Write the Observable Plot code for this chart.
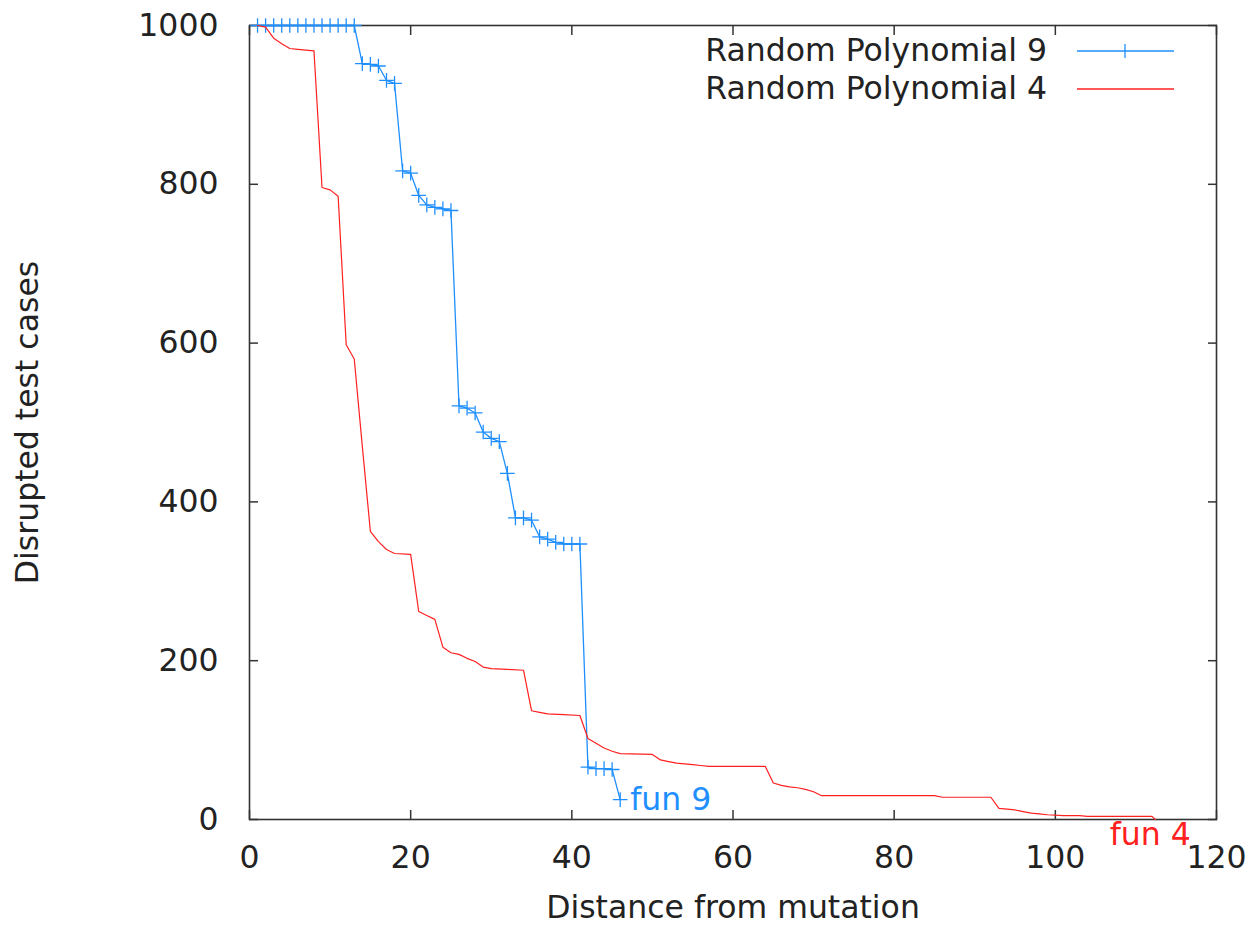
<!DOCTYPE html>
<html><head><meta charset="utf-8">
<script src="https://cdn.jsdelivr.net/npm/d3@7"></script>
<script src="https://cdn.jsdelivr.net/npm/@observablehq/plot@0.6"></script>
<style>
body{margin:0;background:#fff}
#chart{width:1248px;height:925px}
</style>
</head><body><div id="chart"></div>
<script>
const xTicks = [0, 20, 40, 60, 80, 100, 120];
const yTicks = [0, 200, 400, 600, 800, 1000];
const xLabel = "Distance from mutation";
const yLabel = "Disrupted test cases";
const seriesNames = ["Random Polynomial 9", "Random Polynomial 4"];
const seriesColors = ["#1f8fff", "#ff2020"];
const endLabels = ["fun 9", "fun 4"];

// Random Polynomial 9 (marked points)
const poly9X = [1,2,3,4,5,6,7,8,9,10,11,12,13,14,15,16,17,18,19,20,21,22,23,24,25,26,27,28,29,30,31,32,33,34,35,36,37,38,39,40,41,42,43,44,45,46];
const poly9Y = [1000,1000,1000,1000,1000,1000,1000,1000,1000,1000,1000,1000,1000,952,951,949,931,927,817,814,786,774,771,769,767,521,518,512,488,480,476,436,380,380,377,356,353,349,347,347,347,66,64,64,63,25];

// Random Polynomial 4 (line only)
const poly4X = [1,2,3,4,5,6,7,8,9,10,11,12,13,14,15,16,17,18,20,21,22,23,24,25,26,27,28,29,30,32,34,35,36,37,39,41,42,43,44,45,46,50,51,52,53,54,55,56,57,64,65,66,67,68,69,70,71,85,86,92,93,94,95,96,97,98,99,101,103,104,112,112.4];
const poly4Y = [1000,998,984,977,971,970,969,968,796,793,785,598,580,470,363,350,340,335,334,262,257,252,217,210,208,203,199,192,190,189,188,137,135,133,132,131,102,96,90,86,83,82,75,73,71,70,69,68,67,67,46,43,41,40,38,35,30,30,28,28,14,13,12,10,8,7,6,5,5,4,4,0];

const poly9 = poly9X.map((x, i) => ({x, y: poly9Y[i]}));
const poly4 = poly4X.map((x, i) => ({x, y: poly4Y[i]}));

const FS = 31.5;
const FONT = "DejaVu Sans";
const axisColor = "#333";
const textColor = "#222";

function legendMark(index, scales, values, dims) {
  const g = d3.create("svg:g").attr("font-family", FONT).attr("font-size", FS);
  const right = dims.width - dims.marginRight;
  const top = dims.marginTop;
  seriesNames.forEach((name, i) => {
    const y = top + 26 + i * 38;
    g.append("text").attr("x", right - 169).attr("y", y).attr("dy", "0.32em")
      .attr("text-anchor", "end").attr("fill", textColor).text(name);
    g.append("line").attr("x1", right - 139).attr("x2", right - 42).attr("y1", y).attr("y2", y)
      .attr("stroke", seriesColors[i]).attr("stroke-width", 1.3);
    if (i === 0) {
      g.append("path").attr("d", `M${right - 91},${y - 7}V${y + 7}`)
        .attr("stroke", seriesColors[i]).attr("stroke-width", 1.3);
    }
  });
  return g.node();
}

const chart = Plot.plot({
  width: 1248,
  height: 925,
  marginLeft: 249,
  marginRight: 32,
  marginTop: 25,
  marginBottom: 106,
  style: {fontFamily: FONT, fontSize: FS + "px", background: "#fff", color: textColor},
  x: {domain: [0, 120]},
  y: {domain: [0, 1000]},
  marks: [
    Plot.axisX(xTicks, {anchor: "bottom", tickSize: -9, tickPadding: 35, tickFormat: d => String(d), fontSize: FS, label: null, stroke: axisColor, fill: textColor, strokeWidth: 1.5}),
    Plot.axisX(xTicks, {anchor: "top", tickSize: -9, tickFormat: () => "", label: null, stroke: axisColor, strokeWidth: 1.5}),
    Plot.axisY(yTicks, {anchor: "left", tickSize: -9, tickPadding: 40, tickFormat: d => String(d), fontSize: FS, label: null, stroke: axisColor, fill: textColor, strokeWidth: 1.5}),
    Plot.axisY(yTicks, {anchor: "right", tickSize: -9, tickFormat: () => "", label: null, stroke: axisColor, strokeWidth: 1.5}),
    Plot.frame({stroke: axisColor, strokeWidth: 1.6}),
    Plot.line(poly9, {x: "x", y: "y", stroke: seriesColors[0], strokeWidth: 1.3}),
    Plot.dot(poly9, {x: "x", y: "y", symbol: "plus", r: 4.8, stroke: seriesColors[0], strokeWidth: 1.3}),
    Plot.line(poly4, {x: "x", y: "y", stroke: seriesColors[1], strokeWidth: 1.2}),
    Plot.text(poly9.slice(-1), {x: "x", y: "y", text: () => endLabels[0], textAnchor: "start", lineAnchor: "middle", dx: 10, fill: seriesColors[0], fontSize: FS}),
    Plot.text(poly4.slice(-1), {x: "x", y: "y", text: () => endLabels[1], textAnchor: "middle", lineAnchor: "middle", dx: -5, dy: 15, fill: seriesColors[1], fontSize: FS}),
    Plot.text([yLabel], {frameAnchor: "left", text: d => d, rotate: -90, textAnchor: "middle", lineAnchor: "middle", dx: -222, fontSize: FS, fill: textColor}),
    Plot.text([xLabel], {frameAnchor: "bottom", text: d => d, textAnchor: "middle", lineAnchor: "middle", dy: 88, fontSize: FS, fill: textColor}),
    legendMark
  ]
});
document.getElementById("chart").appendChild(chart);
</script>
</body></html>
